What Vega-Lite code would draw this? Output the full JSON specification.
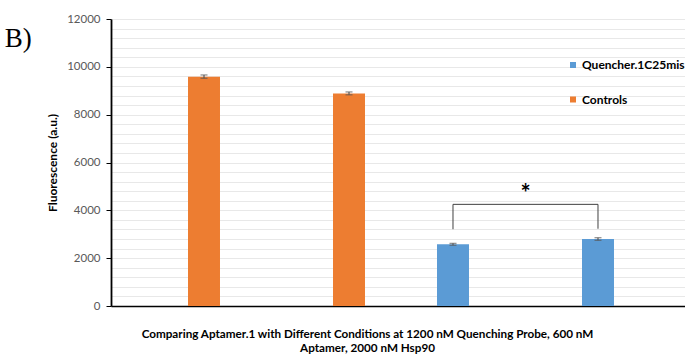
{
  "$schema": "https://vega.github.io/schema/vega-lite/v6.json",
  "width": 574,
  "height": 287,
  "autosize": {"type": "none"},
  "padding": {"left": 111, "top": 19, "right": 0, "bottom": 48},
  "background": "white",
  "title": {
    "text": "B)",
    "orient": "left",
    "angle": 0,
    "font": "Liberation Serif",
    "fontSize": 27,
    "fontWeight": "normal",
    "color": "black",
    "anchor": "end",
    "frame": "group",
    "baseline": "alphabetic",
    "align": "left",
    "offset": 15,
    "dy": 28
  },
  "datasets": {
    "bars": [
      {"cat": "C1", "series": "Controls", "value": 9590, "lo": 9520, "hi": 9660},
      {"cat": "C2", "series": "Controls", "value": 8890, "lo": 8830, "hi": 8950},
      {"cat": "C3", "series": "Quencher.1C25mis", "value": 2580, "lo": 2540, "hi": 2620},
      {"cat": "C4", "series": "Quencher.1C25mis", "value": 2800, "lo": 2745, "hi": 2855}
    ],
    "bracket": [
      {"cat": "C3", "series": "Quencher.1C25mis", "y": 3210, "ord": 1},
      {"cat": "C3", "series": "Quencher.1C25mis", "y": 4250, "ord": 2},
      {"cat": "C4", "series": "Quencher.1C25mis", "y": 4250, "ord": 3},
      {"cat": "C4", "series": "Quencher.1C25mis", "y": 3230, "ord": 4}
    ],
    "star": [
      {"cat": "C4", "series": "Quencher.1C25mis", "y": 4650, "label": "*"}
    ]
  },
  "layer": [
    {
      "data": {"name": "bars"},
      "mark": {"type": "bar"},
      "encoding": {
        "x": {
          "field": "cat", "type": "nominal",
          "scale": {"domain": ["C1", "C2", "C3", "C4"], "range": [0, 580], "paddingInner": 0, "paddingOuter": 0},
          "axis": {
            "labels": false, "ticks": false, "domain": true, "domainColor": "black", "domainWidth": 1.5,
            "title": ["Comparing Aptamer.1 with Different Conditions at 1200 nM Quenching Probe, 600 nM", "Aptamer, 2000 nM Hsp90"],
            "titleFont": "Lato", "titleFontSize": 11.7, "titleFontWeight": "bold", "titleColor": "black",
            "titleX": 256, "titleY": 31, "titleBaseline": "alphabetic", "titleLineHeight": 14.5, "titleAlign": "center"
          }
        },
        "xOffset": {
          "field": "series", "type": "nominal",
          "scale": {"domain": ["Quencher.1C25mis", "Controls"], "paddingInner": 0.22, "paddingOuter": 0.878}
        },
        "y": {
          "field": "value", "type": "quantitative",
          "scale": {"domain": [0, 12000], "nice": false},
          "axis": {
            "orient": "left",
            "values": [0,400,800,1200,1600,2000,2400,2800,3200,3600,4000,4400,4800,5200,5600,6000,6400,6800,7200,7600,8000,8400,8800,9200,9600,10000,10400,10800,11200,11600,12000],
            "grid": true, "gridColor": "#e8e8e8", "gridWidth": 1,
            "labels": false, "ticks": false, "domain": false, "title": null
          }
        },
        "color": {
          "field": "series", "type": "nominal",
          "scale": {"domain": ["Quencher.1C25mis", "Controls"], "range": ["#5b9bd5", "#ed7d31"]},
          "legend": {
            "title": null, "orient": "none", "legendX": 456, "legendY": 40,
            "symbolType": "square", "symbolSize": 36, "symbolStrokeWidth": 0,
            "labelFont": "Lato", "labelFontSize": 12, "labelFontWeight": "bold", "labelColor": "black",
            "labelOffset": 3, "rowPadding": 22.5, "padding": 0
          }
        }
      }
    },
    {
      "data": {"name": "bars"},
      "mark": {"type": "rule", "color": "#595959", "strokeWidth": 1.2},
      "encoding": {
        "x": {"field": "cat", "type": "nominal"},
        "xOffset": {"field": "series", "type": "nominal"},
        "y": {
          "field": "lo", "type": "quantitative",
          "axis": {
            "orient": "left",
            "values": [0, 2000, 4000, 6000, 8000, 10000, 12000],
            "format": "d",
            "grid": false, "domain": true, "domainColor": "black", "domainWidth": 1.8,
            "ticks": true, "tickColor": "black", "tickSize": 5, "tickWidth": 1,
            "labelFont": "Lato", "labelFontSize": 11.5, "labelColor": "#595959", "labelPadding": 6,
            "title": "Fluorescence (a.u.)", "titleFont": "Lato", "titleFontSize": 12, "titleFontWeight": "bold", "titleColor": "black", "titlePadding": 7
          }
        },
        "y2": {"field": "hi"}
      }
    },
    {
      "data": {"name": "bars"},
      "mark": {"type": "tick", "color": "#595959", "size": 7, "thickness": 1.2, "orient": "horizontal"},
      "encoding": {
        "x": {"field": "cat", "type": "nominal"},
        "xOffset": {"field": "series", "type": "nominal"},
        "y": {"field": "lo", "type": "quantitative", "axis": null}
      }
    },
    {
      "data": {"name": "bars"},
      "mark": {"type": "tick", "color": "#595959", "size": 7, "thickness": 1.2, "orient": "horizontal"},
      "encoding": {
        "x": {"field": "cat", "type": "nominal"},
        "xOffset": {"field": "series", "type": "nominal"},
        "y": {"field": "hi", "type": "quantitative", "axis": null}
      }
    },
    {
      "data": {"name": "bracket"},
      "mark": {"type": "line", "color": "#404040", "strokeWidth": 1},
      "encoding": {
        "x": {"field": "cat", "type": "nominal"},
        "xOffset": {"field": "series", "type": "nominal"},
        "y": {"field": "y", "type": "quantitative", "axis": null},
        "order": {"field": "ord", "type": "quantitative"}
      }
    },
    {
      "data": {"name": "star"},
      "mark": {"type": "text", "font": "Lato", "fontSize": 24, "fontWeight": "bold", "color": "black", "dx": -72.5, "baseline": "middle"},
      "encoding": {
        "x": {"field": "cat", "type": "nominal"},
        "xOffset": {"field": "series", "type": "nominal"},
        "y": {"field": "y", "type": "quantitative", "axis": null},
        "text": {"field": "label"}
      }
    }
  ],
  "resolve": {"axis": {"y": "independent"}},
  "config": {"view": {"stroke": null}}
}
